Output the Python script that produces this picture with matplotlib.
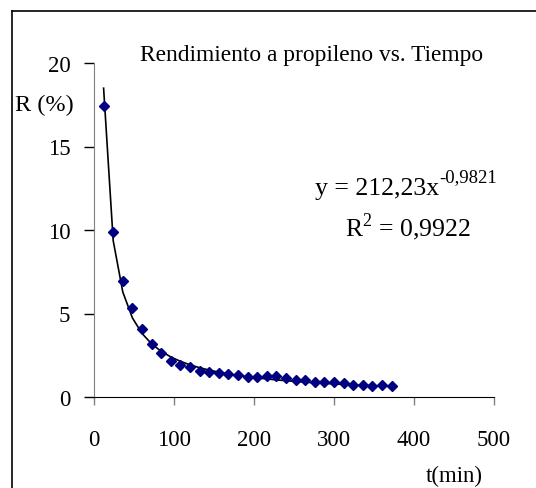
import numpy as np
import matplotlib
matplotlib.use('Agg')
from matplotlib import pyplot as plt
from matplotlib.lines import Line2D

plt.rcParams['font.family'] = ['Liberation Serif', 'DejaVu Serif']

# time (min) and propylene yield R (%)
tiempo = [12, 24, 36, 48, 60, 72, 84, 96, 108, 120, 132, 144, 156, 168, 180, 192,
          204, 216, 228, 240, 252, 264, 276, 288, 300, 312, 324, 336, 348, 360, 372]
rendimiento = [17.45, 9.86, 6.94, 5.32, 4.09, 3.19, 2.64, 2.14, 1.94, 1.77, 1.57,
               1.47, 1.45, 1.37, 1.29, 1.21, 1.21, 1.23, 1.23, 1.11, 1.01, 1.01,
               0.91, 0.91, 0.91, 0.83, 0.73, 0.73, 0.65, 0.73, 0.65]

# power trendline y = a * x^b
coef_a = 212.23
coef_b = -0.9821
r2 = 0.9922


def coma(valor, decimales):
    return ('%.*f' % (decimales, valor)).replace('.', ',')


W, H = 536, 489
figure = plt.figure(figsize=(W / 100, H / 100), dpi=100)
axis = figure.add_axes([94 / W, (H - 398) / H, 400 / W, 334 / H])

t = np.array(tiempo, dtype=float)
axis.plot(t, coef_a * t ** coef_b, color='black', lw=1.2, zorder=2, clip_on=False)
axis.plot(tiempo, rendimiento, ls='none', marker='D', ms=5, color='#000080',
          mec='#000080', zorder=3, clip_on=False)

axis.set_xlim(0, 500)
axis.set_ylim(0, 20)
axis.set_xticks([0, 100, 200, 300, 400, 500])
axis.set_yticks([0, 5, 10, 15, 20])
axis.spines['top'].set_visible(False)
axis.spines['right'].set_visible(False)
axis.spines['left'].set_color('#808080')
axis.spines['bottom'].set_color('black')
axis.tick_params(axis='x', direction='out', length=6, width=1, color='#808080',
                 labelsize=16.5, pad=17)
axis.tick_params(axis='y', direction='out', length=7, width=1, color='black',
                 labelsize=16.5, pad=10)

figure.text(312 / W, 1 - 55 / H, 'Rendimiento a propileno vs. Tiempo',
            ha='center', va='center', fontsize=16.8)
figure.text(44 / W, 1 - 105 / H, 'R (%)', ha='center', va='center', fontsize=17.5)
figure.text(454 / W, 1 - 476 / H, 't(min)', ha='center', va='center', fontsize=16.5)

# trendline equation, exponent written as a raised smaller text
eq = figure.text(315 / W, 1 - 195 / H, 'y = %sx' % coma(coef_a, 2),
                 ha='left', va='baseline', fontsize=18.5)
figure.canvas.draw()
x_end = eq.get_window_extent().x1
figure.text(x_end / W + 0.001, 1 - 182 / H, coma(coef_b, 4),
            ha='left', va='baseline', fontsize=13.5)
figure.text(345 / W, 1 - 236 / H, r'R$^{\mathregular{2}}$ = ' + coma(r2, 4),
            ha='left', va='baseline', fontsize=18.5)

# chart frame (top and left edges)
figure.add_artist(Line2D([12 / W, 1], [1 - 12 / H, 1 - 12 / H], color='black', lw=1.2))
figure.add_artist(Line2D([12 / W, 12 / W], [0, 1 - 12 / H], color='black', lw=1.2))

plt.savefig('out.png', dpi=100)
